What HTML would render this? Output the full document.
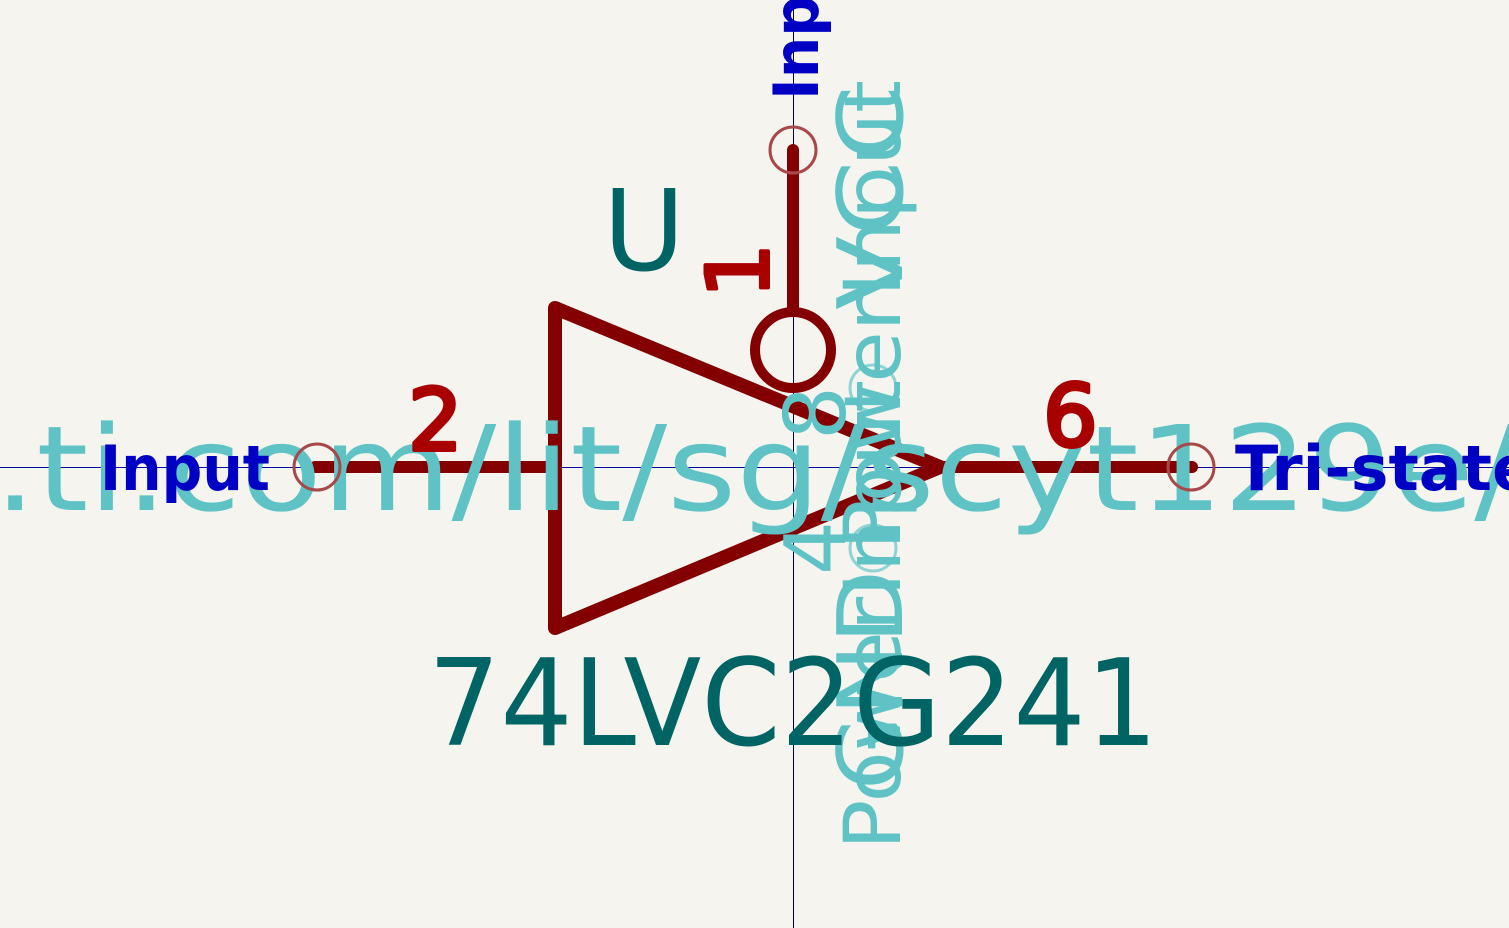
<!DOCTYPE html>
<html><head><meta charset="utf-8"><style>
html,body{margin:0;padding:0;background:#f5f4ef;}
svg{display:block;}
text{font-family:"DejaVu Sans","Liberation Sans",sans-serif;}
</style></head><body>
<svg width="1509" height="928" viewBox="0 0 1509 928">
<rect x="0" y="0" width="1509" height="928" fill="#f5f4ef"/>
<line x1="0" y1="467.5" x2="1509" y2="467.5" stroke="#0000a0" stroke-width="1"/>
<line x1="793.5" y1="0" x2="793.5" y2="928" stroke="#000040" stroke-width="1"/>

<g stroke="#840000" stroke-linecap="round" stroke-linejoin="round" fill="none">
<polygon points="555,308 555,628 940,467" stroke-width="14"/>
<circle cx="793" cy="350" r="38" stroke-width="10"/>
<line x1="315" y1="467" x2="555" y2="467" stroke-width="12"/>
<line x1="940" y1="467" x2="1192" y2="467" stroke-width="12"/>
<line x1="793" y1="150" x2="793" y2="308" stroke-width="12"/>
</g>

<text x="-6" y="510" font-family="DejaVu Sans Mono, monospace" font-size="118" fill="#5fc3c5" textLength="1525" lengthAdjust="spacingAndGlyphs">.ti.com/lit/sg/scyt129e/</text>

<g fill="none" stroke="#a84848" stroke-width="3">
<circle cx="317" cy="467" r="23"/>
<circle cx="1191" cy="467" r="23"/>
<circle cx="793" cy="150" r="23"/>
</g>
<g fill="none" stroke="#8fd3d5" stroke-width="3">
<circle cx="873" cy="388" r="23"/>
<circle cx="873" cy="548" r="23"/>
</g>

<text x="100" y="490" font-size="62" font-weight="bold" fill="#0000c4" textLength="170" lengthAdjust="spacingAndGlyphs">Input</text>
<text x="1235" y="490" font-size="62" font-weight="bold" fill="#0000c4" textLength="300" lengthAdjust="spacingAndGlyphs">Tri-state</text>
<text transform="translate(818,100) rotate(-90)" font-size="62" font-weight="bold" fill="#0000c4" textLength="105" lengthAdjust="spacingAndGlyphs">Inp</text>

<g fill="#a90000" stroke="#a90000" stroke-width="4" stroke-linejoin="round">
<text x="408" y="450" font-size="86">2</text>
<text x="1043" y="446" font-size="86">6</text>
<text transform="translate(768,298) rotate(-90)" font-size="86">1</text>
</g>

<text transform="translate(900,850) rotate(-90)" font-size="78" fill="#5fc3c5" textLength="470" lengthAdjust="spacingAndGlyphs">PowerInput</text>
<text transform="translate(900,550) rotate(-90)" font-size="78" fill="#5fc3c5" textLength="470" lengthAdjust="spacingAndGlyphs">PowerInput</text>
<text transform="translate(902,310) rotate(-90)" font-size="90" fill="#5fc3c5" textLength="225" lengthAdjust="spacingAndGlyphs">VCC</text>
<text transform="translate(902,790) rotate(-90)" font-size="90" fill="#5fc3c5" textLength="220" lengthAdjust="spacingAndGlyphs">GND</text>
<text transform="translate(845,440) rotate(-90)" font-size="85" fill="#5fc3c5">8</text>
<text transform="translate(845,575) rotate(-90)" font-size="85" fill="#5fc3c5">4</text>

<text x="603" y="270" font-size="112" fill="#006464">U</text>
<text x="428" y="745" font-size="120" fill="#006464" textLength="730" lengthAdjust="spacingAndGlyphs">74LVC2G241</text>
</svg>
</body></html>
